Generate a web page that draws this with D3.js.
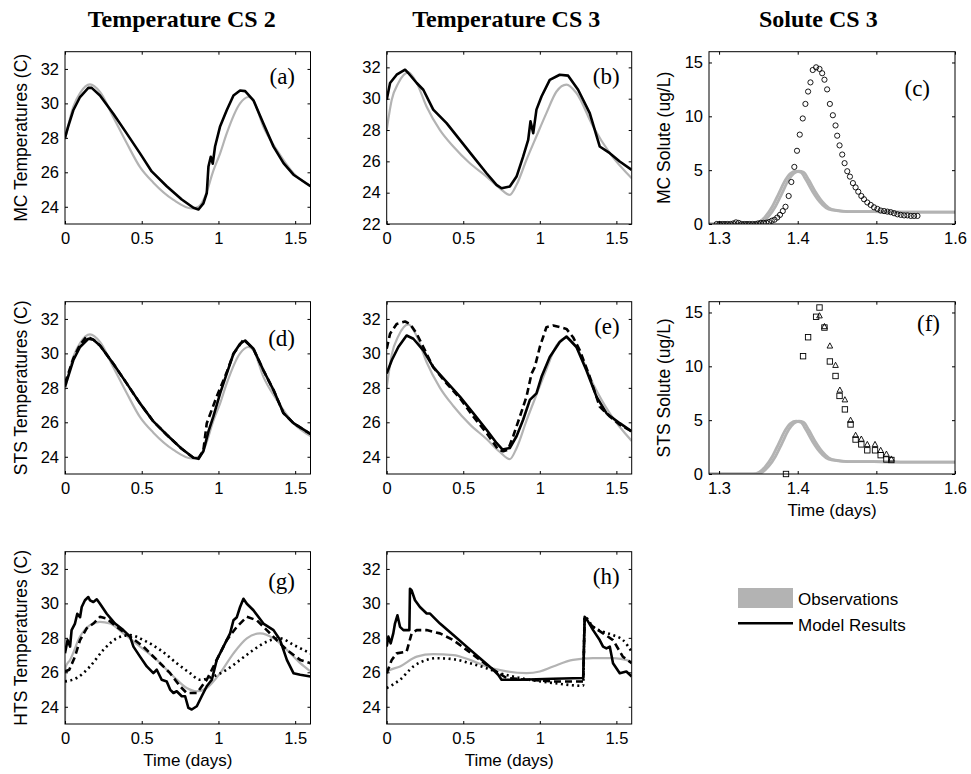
<!DOCTYPE html>
<html><head><meta charset="utf-8">
<script src="https://cdn.jsdelivr.net/npm/d3@7"></script>
<style>
body{margin:0;background:#fff;}
svg{display:block;}
text{font-family:"Liberation Sans",Arial,sans-serif;fill:#000;}
.serif{font-family:"Liberation Serif","Times New Roman",serif;}
</style></head><body>
<svg id="c" width="971" height="774"></svg>
<script>
// ---------------- DATA ----------------
const colTitles = ["Temperature CS 2", "Temperature CS 3", "Solute CS 3"];
const tempXTicks = [0, 0.5, 1, 1.5];
const soluteXTicks = [1.3, 1.4, 1.5, 1.6];
const tempYTicks = [24, 26, 28, 30, 32];
const tempYTicksB = [22, 24, 26, 28, 30, 32];
const soluteYTicks = [0, 5, 10, 15];

// Observations (gray)
const obsCS2 = [[0,27.9],[0.054,29.8],[0.098,30.6],[0.163,31.1],[0.228,30.66],[0.315,29.2],[0.402,27.7],[0.489,26.3],[0.576,25.4],[0.707,24.4],[0.826,23.9],[0.87,24.0],[0.913,24.6],[0.967,26.1],[1.011,27.1],[1.054,28.26],[1.141,30.0],[1.196,30.37],[1.228,30.18],[1.293,28.64],[1.38,27.3],[1.489,25.95],[1.6,25.2]];
const obsCS3 = [[0,28.0],[0.033,29.93],[0.076,31.0],[0.141,31.68],[0.196,31.0],[0.26,29.5],[0.348,28.0],[0.435,26.95],[0.543,25.88],[0.652,25.03],[0.739,24.28],[0.804,23.86],[0.848,24.5],[0.913,26.1],[0.978,27.6],[1.043,29.08],[1.109,30.46],[1.174,30.9],[1.239,30.36],[1.348,28.23],[1.457,26.52],[1.6,24.92]];
const obsHtsCS2 = [[0,23.0],[0.004,26.3],[0.033,26.72],[0.098,28.07],[0.163,28.74],[0.228,28.93],[0.293,28.83],[0.38,28.26],[0.489,27.49],[0.598,26.72],[0.707,25.76],[0.793,25.09],[0.859,24.9],[0.924,25.09],[1.011,25.95],[1.098,27.1],[1.185,27.97],[1.272,28.26],[1.359,27.97],[1.446,27.3],[1.533,26.53],[1.6,26.05]];
const obsHtsCS3 = [[0,23.0],[0.004,26.05],[0.087,26.34],[0.196,26.91],[0.304,27.05],[0.435,27.0],[0.543,26.72],[0.652,26.34],[0.783,26.05],[0.913,25.95],[1.0,26.05],[1.087,26.34],[1.217,26.72],[1.348,26.82],[1.478,26.82],[1.6,26.63]];
const obsSoluteEarly = [[1.2872,0],[1.343,0],[1.351,0.17],[1.359,0.7],[1.3675,1.6],[1.376,2.85],[1.3845,4.1],[1.391,4.7],[1.398,4.9],[1.404,4.8],[1.4105,4.1],[1.419,3.0],[1.4275,2.1],[1.436,1.5],[1.445,1.28],[1.463,1.15],[1.497,1.15],[1.54,1.1],[1.6,1.1]];
const obsSoluteLate = [[1.2872,0],[1.347,0],[1.355,0.17],[1.363,0.7],[1.3715,1.6],[1.38,2.85],[1.3885,4.1],[1.395,4.7],[1.4015,4.9],[1.4075,4.8],[1.414,4.1],[1.4225,3.0],[1.431,2.1],[1.4395,1.5],[1.448,1.28],[1.465,1.15],[1.497,1.15],[1.54,1.1],[1.6,1.1]];

// Model results (black)
const mcCS2 = [[0,28.0],[0.02,28.64],[0.054,29.6],[0.098,30.37],[0.152,30.9],[0.174,30.9],[0.228,30.46],[0.315,29.4],[0.402,28.26],[0.489,27.1],[0.565,26.05],[0.663,25.19],[0.761,24.42],[0.837,23.94],[0.87,23.84],[0.902,24.2],[0.924,24.8],[0.935,26.34],[0.95,26.9],[0.963,26.5],[0.978,27.5],[1.01,28.64],[1.054,29.6],[1.098,30.46],[1.141,30.75],[1.174,30.71],[1.228,30.18],[1.293,28.83],[1.359,27.49],[1.424,26.53],[1.489,25.86],[1.6,25.19]];
const mcCS3 = [[0,29.93],[0.022,31.0],[0.065,31.53],[0.12,31.85],[0.141,31.64],[0.196,31.0],[0.239,30.57],[0.304,29.3],[0.391,28.44],[0.478,27.37],[0.565,26.3],[0.652,25.24],[0.717,24.5],[0.75,24.28],[0.804,24.39],[0.848,25.03],[0.891,26.3],[0.924,27.37],[0.939,28.55],[0.957,27.8],[0.978,29.3],[1.011,30.14],[1.065,31.2],[1.13,31.53],[1.185,31.47],[1.25,30.57],[1.326,29.08],[1.391,26.95],[1.457,26.52],[1.522,25.99],[1.6,25.45]];
const stsCS2Solid = [[0,28.07],[0.054,29.6],[0.098,30.37],[0.152,30.85],[0.185,30.79],[0.228,30.46],[0.315,29.4],[0.402,28.26],[0.489,27.1],[0.576,26.05],[0.663,25.28],[0.761,24.46],[0.837,23.94],[0.87,23.88],[0.902,24.32],[0.935,25.47],[0.967,26.34],[1.011,27.68],[1.054,28.83],[1.098,29.98],[1.141,30.56],[1.174,30.75],[1.228,30.27],[1.293,29.02],[1.359,27.87],[1.424,26.53],[1.489,25.95],[1.6,25.32]];
const stsCS2Dashed = [[0,28.26],[0.054,29.7],[0.098,30.5],[0.141,30.98],[0.185,30.8],[0.228,30.46],[0.315,29.4],[0.402,28.26],[0.489,27.1],[0.576,26.05],[0.663,25.28],[0.761,24.46],[0.837,23.94],[0.87,23.9],[0.902,24.4],[0.924,25.95],[0.989,27.5],[1.054,28.9],[1.098,29.98],[1.163,30.8],[1.228,30.27],[1.293,29.02],[1.359,27.87],[1.424,26.53],[1.489,25.95],[1.6,25.32]];
const stsCS3Solid = [[0,28.83],[0.033,29.6],[0.076,30.37],[0.13,31.04],[0.174,30.85],[0.239,30.18],[0.304,29.2],[0.391,28.35],[0.478,27.49],[0.565,26.53],[0.652,25.57],[0.717,24.8],[0.757,24.42],[0.804,24.51],[0.848,25.19],[0.891,26.15],[0.935,27.3],[0.978,27.68],[1.011,28.64],[1.065,29.79],[1.13,30.66],[1.174,30.98],[1.239,30.37],[1.304,29.02],[1.37,27.49],[1.435,26.53],[1.522,25.95],[1.6,25.47]];
const stsCS3Dashed = [[0,30.27],[0.022,31.14],[0.065,31.71],[0.12,31.85],[0.152,31.71],[0.196,31.14],[0.239,30.37],[0.304,29.2],[0.391,28.26],[0.478,27.4],[0.565,26.34],[0.652,25.38],[0.728,24.42],[0.761,24.32],[0.793,24.42],[0.826,25.19],[0.87,26.34],[0.913,27.49],[0.946,28.83],[0.967,29.2],[1.0,30.37],[1.043,31.52],[1.087,31.62],[1.174,31.42],[1.217,30.94],[1.261,30.18],[1.326,28.64],[1.391,26.91],[1.457,26.34],[1.522,25.86],[1.6,25.47]];
const htsCS2Solid = [[0,27.1],[0.017,27.87],[0.033,27.49],[0.043,28.45],[0.065,28.83],[0.08,29.4],[0.098,29.2],[0.109,29.79],[0.13,30.18],[0.152,30.37],[0.163,30.18],[0.185,30.08],[0.207,30.24],[0.228,29.98],[0.272,29.4],[0.326,28.83],[0.38,28.45],[0.424,28.07],[0.446,27.49],[0.489,26.91],[0.533,26.34],[0.576,25.95],[0.598,26.15],[0.63,25.57],[0.663,25.47],[0.685,25.0],[0.707,24.8],[0.728,24.9],[0.761,24.61],[0.783,24.61],[0.804,23.94],[0.826,23.84],[0.859,24.03],[0.891,24.61],[0.924,25.19],[0.957,25.57],[0.989,26.72],[1.022,27.3],[1.054,27.87],[1.076,28.26],[1.098,29.02],[1.12,29.2],[1.141,29.79],[1.163,30.27],[1.185,29.98],[1.228,29.6],[1.293,28.83],[1.359,28.45],[1.402,27.87],[1.446,26.72],[1.489,25.95],[1.533,25.86],[1.6,25.76]];
const htsCS2Dashed = [[0,26.05],[0.028,26.15],[0.065,26.91],[0.098,27.87],[0.141,28.55],[0.185,28.83],[0.228,29.22],[0.272,29.12],[0.337,28.64],[0.424,28.07],[0.511,27.49],[0.598,26.72],[0.685,25.95],[0.75,25.19],[0.793,24.8],[0.859,24.8],[0.924,25.57],[0.989,26.72],[1.054,27.87],[1.12,28.64],[1.185,29.22],[1.25,29.02],[1.315,28.45],[1.38,27.87],[1.446,27.3],[1.533,26.72],[1.6,26.53]];
const htsCS2Dotted = [[0,25.47],[0.076,25.67],[0.163,26.34],[0.25,27.3],[0.337,27.97],[0.424,28.16],[0.511,27.87],[0.62,27.3],[0.728,26.53],[0.815,25.95],[0.88,25.57],[0.967,25.76],[1.054,26.15],[1.141,26.72],[1.228,27.3],[1.315,27.78],[1.402,27.97],[1.489,27.59],[1.6,27.1]];
const htsCS3Solid = [[0,27.49],[0.011,28.07],[0.026,27.68],[0.043,28.26],[0.054,28.83],[0.07,29.31],[0.087,28.64],[0.109,28.45],[0.148,28.45],[0.152,30.85],[0.163,30.75],[0.185,30.18],[0.217,29.79],[0.261,29.41],[0.283,29.41],[0.348,28.83],[0.435,28.16],[0.522,27.49],[0.609,26.82],[0.696,26.15],[0.728,25.86],[0.75,25.57],[0.87,25.57],[1.087,25.63],[1.283,25.67],[1.293,29.22],[1.304,29.12],[1.348,28.45],[1.391,27.87],[1.413,27.49],[1.435,27.39],[1.457,27.49],[1.478,26.53],[1.522,25.95],[1.565,26.05],[1.6,25.76]];
const htsCS3Dashed = [[0,25.95],[0.033,26.72],[0.065,27.1],[0.13,27.2],[0.163,28.26],[0.196,28.45],[0.261,28.45],[0.348,28.26],[0.435,27.87],[0.522,27.3],[0.609,26.72],[0.696,26.15],[0.783,25.67],[0.913,25.57],[1.087,25.47],[1.283,25.47],[1.293,29.12],[1.348,28.64],[1.413,28.26],[1.478,27.87],[1.543,26.9],[1.6,26.53]];
const htsCS3Dotted = [[0,25.09],[0.087,25.57],[0.174,26.34],[0.261,26.72],[0.326,26.82],[0.435,26.76],[0.543,26.53],[0.652,26.24],[0.739,25.95],[0.87,25.67],[1.087,25.38],[1.283,25.22],[1.293,29.22],[1.348,28.64],[1.413,28.35],[1.478,28.16],[1.543,27.87],[1.6,27.2]];

// Solute model results (markers)
const mcSoluteCircles = [[1.297,0],[1.3005,0],[1.304,0],[1.3075,0],[1.311,0],[1.3145,0],[1.318,0.05],[1.3215,0.15],[1.325,0.1],[1.3285,0],[1.332,0],[1.3355,0],[1.339,0],[1.3425,0],[1.346,0],[1.3495,0.05],[1.353,0.1],[1.3565,0.1],[1.36,0.12],[1.3635,0.18],[1.367,0.3],[1.3705,0.4],[1.374,0.6],[1.3775,0.85],[1.381,1.2],[1.3845,1.6],[1.3885,2.6],[1.3919,3.9],[1.3957,5.3],[1.3991,6.8],[1.4026,8.3],[1.4064,9.8],[1.4098,11.15],[1.4132,12.3],[1.4162,13.15],[1.4191,14.3],[1.4234,14.55],[1.4277,14.4],[1.4311,14.0],[1.434,13.4],[1.4374,12.5],[1.4409,11.15],[1.4447,10.1],[1.4481,9.15],[1.4502,8.2],[1.4532,7.3],[1.4566,6.45],[1.4596,5.65],[1.463,4.9],[1.4664,4.4],[1.4702,3.8],[1.4736,3.4],[1.477,3.0],[1.4809,2.6],[1.4843,2.3],[1.4885,2.0],[1.4928,1.77],[1.497,1.55],[1.5013,1.4],[1.5055,1.25],[1.5098,1.2],[1.514,1.15],[1.5183,1.1],[1.5225,1.0],[1.5268,0.9],[1.531,0.85],[1.5353,0.8],[1.5395,0.8],[1.5438,0.75],[1.548,0.75],[1.5523,0.75]];
const stsSoluteSquares = [[1.3851,0],[1.4068,10.94],[1.4132,12.7],[1.4234,14.6],[1.4277,15.46],[1.434,13.6],[1.4409,10.45],[1.4481,9.1],[1.4532,7.25],[1.46,6.0],[1.4672,4.6],[1.4736,3.2],[1.4809,2.75],[1.4885,2.2],[1.4983,2.2],[1.5055,1.75],[1.5128,1.35],[1.5191,1.3]];
const stsSoluteTriangles = [[1.4277,14.7],[1.434,13.7],[1.4409,11.9],[1.4481,10.1],[1.4536,7.8],[1.46,6.9],[1.4672,5.0],[1.4736,3.6],[1.4809,3.25],[1.4885,2.75],[1.4983,2.75],[1.5055,2.2],[1.5128,1.85],[1.5191,1.4]];

const legendLabels = ["Observations", "Model Results"];

// ---------------- LAYOUT ----------------
const colX = [[65, 310.5], [386.7, 631.7], [709, 955]];
const rowY = [[51.7, 224], [301.7, 474], [551.7, 724]];
const GRAY = "#b3b3b3";

const svg = d3.select("#c");

const panels = [
  {col:0,row:0,xd:[0,1.6],yd:[23,33],xt:tempXTicks,yt:tempYTicks,ylab:"MC Temperatures (C)",lab:"(a)",lx:-15.5,ly:32.3,
   lines:[{d:obsCS2,t:"obs"},{d:mcCS2,t:"solid"}]},
  {col:1,row:0,xd:[0,1.6],yd:[22,33],xt:tempXTicks,yt:tempYTicksB,lab:"(b)",lx:-12,ly:32.3,
   lines:[{d:obsCS3,t:"obs"},{d:mcCS3,t:"solid"}]},
  {col:2,row:0,xd:[1.2872,1.6],yd:[0,16],xt:soluteXTicks,yt:soluteYTicks,ylab:"MC Solute (ug/L)",lab:"(c)",lx:-25,ly:44.3,
   lines:[{d:obsSoluteEarly,t:"band"},{d:obsSoluteLate,t:"band"}],circles:mcSoluteCircles},
  {col:0,row:1,xd:[0,1.6],yd:[23,33],xt:tempXTicks,yt:tempYTicks,ylab:"STS Temperatures (C)",lab:"(d)",lx:-15.5,ly:44.3,
   lines:[{d:obsCS2,t:"obs"},{d:stsCS2Dashed,t:"dashed"},{d:stsCS2Solid,t:"solid"}]},
  {col:1,row:1,xd:[0,1.6],yd:[23,33],xt:tempXTicks,yt:tempYTicks,lab:"(e)",lx:-12,ly:32.3,
   lines:[{d:obsCS3,t:"obs"},{d:stsCS3Dashed,t:"dashed"},{d:stsCS3Solid,t:"solid"}]},
  {col:2,row:1,xd:[1.2872,1.6],yd:[0,16],xt:soluteXTicks,yt:soluteYTicks,ylab:"STS Solute (ug/L)",lab:"(f)",lx:-15,ly:29.3,xlab:"Time (days)",
   lines:[{d:obsSoluteEarly,t:"band"},{d:obsSoluteLate,t:"band"}],squares:stsSoluteSquares,triangles:stsSoluteTriangles},
  {col:0,row:2,xd:[0,1.6],yd:[23,33],xt:tempXTicks,yt:tempYTicks,ylab:"HTS Temperatures (C)",lab:"(g)",lx:-15.5,ly:37.3,xlab:"Time (days)",
   lines:[{d:obsHtsCS2,t:"obs"},{d:htsCS2Dotted,t:"dotted"},{d:htsCS2Dashed,t:"dashed"},{d:htsCS2Solid,t:"solid"}]},
  {col:1,row:2,xd:[0,1.6],yd:[23,33],xt:tempXTicks,yt:tempYTicks,lab:"(h)",lx:-12,ly:32.3,xlab:"Time (days)",
   lines:[{d:obsHtsCS3,t:"obs"},{d:htsCS3Dotted,t:"dotted"},{d:htsCS3Dashed,t:"dashed"},{d:htsCS3Solid,t:"solid"}]}
];

const styles = {
  obs:{stroke:GRAY,w:2.2,dash:null,smooth:true},
  band:{stroke:GRAY,w:2.8,dash:null,smooth:true},
  solid:{stroke:"#000",w:2.6,dash:null,smooth:false},
  dashed:{stroke:"#000",w:2.6,dash:"7,4",smooth:false},
  dotted:{stroke:"#000",w:2.6,dash:"2,3.5",smooth:true}
};

// Column titles
const titleX = [181.7, 506.3, 818.3];
colTitles.forEach((t,i)=>{
  svg.append("text").attr("class","serif").attr("x",titleX[i]).attr("y",27)
    .attr("text-anchor","middle").style("font-weight","bold").style("font-size","24px").text(t);
});

panels.forEach((p,pi)=>{
  const [x0,x1] = colX[p.col], [y0,y1] = rowY[p.row];
  const x = d3.scaleLinear().domain(p.xd).range([x0,x1]);
  const y = d3.scaleLinear().domain(p.yd).range([y1,y0]);
  const g = svg.append("g");
  const cid = "clip"+pi;
  g.append("clipPath").attr("id",cid).append("rect").attr("x",x0).attr("y",y0).attr("width",x1-x0).attr("height",y1-y0);
  const plot = g.append("g").attr("clip-path",`url(#${cid})`);
  const lineLin = d3.line().x(d=>x(d[0])).y(d=>y(d[1]));
  const lineSmooth = d3.line().x(d=>x(d[0])).y(d=>y(d[1])).curve(d3.curveMonotoneX);
  p.lines.forEach(l=>{
    const s = styles[l.t];
    plot.append("path").datum(l.d).attr("d",s.smooth?lineSmooth:lineLin).attr("fill","none")
      .attr("stroke",s.stroke).attr("stroke-width",s.w).attr("stroke-linejoin","round")
      .attr("stroke-dasharray",s.dash);
  });
  if(p.circles){
    plot.selectAll(null).data(p.circles).enter().append("circle")
      .attr("cx",d=>x(d[0])).attr("cy",d=>y(d[1])).attr("r",2.6)
      .attr("fill","none").attr("stroke","#000").attr("stroke-width",0.9);
  }
  if(p.squares){
    g.selectAll(null).data(p.squares).enter().append("rect")
      .attr("x",d=>x(d[0])-2.7).attr("y",d=>y(d[1])-2.7).attr("width",5.4).attr("height",5.4)
      .attr("fill","none").attr("stroke","#000").attr("stroke-width",0.9);
  }
  if(p.triangles){
    g.selectAll(null).data(p.triangles).enter().append("path")
      .attr("d",d=>{const cx=x(d[0]),cy=y(d[1]);return `M${cx},${cy-3}L${cx+2.8},${cy+2.2}L${cx-2.8},${cy+2.2}Z`;})
      .attr("fill","none").attr("stroke","#000").attr("stroke-width",0.9);
  }
  // axes
  const ax = g.append("g").style("font-family","'Liberation Sans',Arial,sans-serif");
  const bottom = ax.append("g").attr("transform",`translate(0,${y1})`)
    .call(d3.axisBottom(x).tickValues(p.xt).tickSize(-3).tickSizeOuter(0).tickPadding(8).tickFormat(d3.format("")));
  const left = ax.append("g").attr("transform",`translate(${x0},0)`)
    .call(d3.axisLeft(y).tickValues(p.yt).tickSize(-3).tickSizeOuter(0).tickPadding(6).tickFormat(d3.format("")));
  const top = ax.append("g").attr("transform",`translate(0,${y0})`)
    .call(d3.axisTop(x).tickValues(p.xt).tickSize(-3).tickSizeOuter(0).tickFormat(""));
  const right = ax.append("g").attr("transform",`translate(${x1},0)`)
    .call(d3.axisRight(y).tickValues(p.yt).tickSize(-3).tickSizeOuter(0).tickFormat(""));
  [bottom,left,top,right].forEach(a=>{
    a.select(".domain").remove();
    a.selectAll("line").attr("stroke","#000").attr("stroke-width",1);
    a.selectAll("text").style("font-size","16.5px").attr("fill","#000");
  });
  g.append("rect").attr("x",x0).attr("y",y0).attr("width",x1-x0).attr("height",y1-y0)
    .attr("fill","none").attr("stroke","#000").attr("stroke-width",1);
  // panel label
  g.append("text").attr("class","serif").attr("x",x1+p.lx).attr("y",y0+p.ly)
    .attr("text-anchor","end").style("font-size","23px").text(p.lab);
  if(p.ylab){
    const lx = p.col===0 ? 27 : 670;
    g.append("text").attr("transform",`translate(${lx},${(y0+y1)/2}) rotate(-90)`)
      .attr("text-anchor","middle").style("font-size","17.5px").text(p.ylab);
  }
  if(p.xlab){
    g.append("text").attr("x",(x0+x1)/2).attr("y",y1+42).attr("text-anchor","middle")
      .style("font-size","17px").text(p.xlab);
  }
});

// Legend
const lg = svg.append("g");
lg.append("rect").attr("x",738).attr("y",588).attr("width",55).attr("height",20).attr("fill",GRAY);
lg.append("line").attr("x1",738).attr("x2",793).attr("y1",623.3).attr("y2",623.3).attr("stroke","#000").attr("stroke-width",2.6);
lg.append("text").attr("x",798).attr("y",605).style("font-size","17px").text(legendLabels[0]);
lg.append("text").attr("x",798).attr("y",630.5).style("font-size","17px").text(legendLabels[1]);
</script>
</body></html>
